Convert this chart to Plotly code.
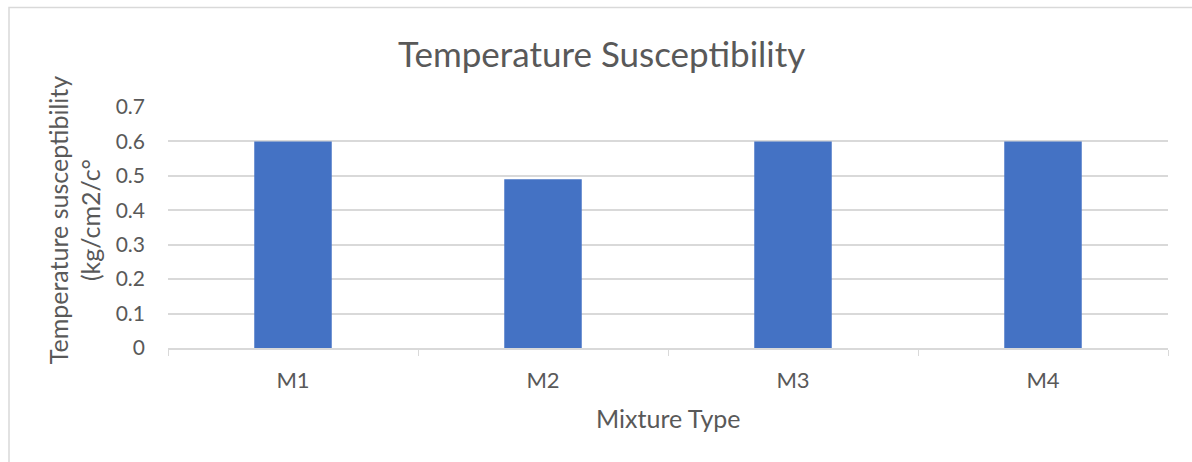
import plotly.graph_objects as go

# Temperature susceptibility by mixture type
mixtures = ["M1", "M2", "M3", "M4"]
susceptibility = [0.6, 0.49, 0.6, 0.6]
y_ticks = [0, 0.1, 0.2, 0.3, 0.4, 0.5, 0.6, 0.7]
y_tick_labels = ["0", "0.1", "0.2", "0.3", "0.4", "0.5", "0.6", "0.7"]

FONT = "Lato"
TEXT = "#595959"
GRID = "#D9D9D9"

fig = go.Figure(
    go.Bar(
        x=mixtures,
        y=susceptibility,
        marker=dict(color="#4472C4", line=dict(width=0)),
        width=0.31,
    )
)

fig.update_layout(
    width=1192,
    height=462,
    margin=dict(l=168, r=24, t=107, b=114),
    paper_bgcolor="white",
    plot_bgcolor="white",
    showlegend=False,
    font=dict(family=FONT, color=TEXT),
)

fig.update_xaxes(
    tickfont=dict(size=22, color=TEXT),
    showgrid=False,
    showline=True,
    linecolor=GRID,
    linewidth=1.5,
    ticks="outside",
    tickson="boundaries",
    ticklen=6,
    tickcolor=GRID,
    ticklabelstandoff=12,
)
fig.update_yaxes(
    range=[0, 0.7],
    tickvals=y_ticks,
    ticktext=y_tick_labels,
    tickfont=dict(size=21, color=TEXT),
    showgrid=True,
    gridcolor=GRID,
    gridwidth=1.5,
    zeroline=False,
    showline=False,
    ticklabelstandoff=22,
)

# Chart title
fig.add_annotation(
    text="Temperature Susceptibility",
    xref="paper", yref="paper",
    x=0.433, y=1.224,
    showarrow=False,
    font=dict(size=35, color=TEXT, family=FONT),
    xanchor="center", yanchor="middle",
)
# Axis titles
fig.add_annotation(
    text="Mixture Type",
    xref="paper", yref="paper",
    x=0.5, y=-0.29,
    showarrow=False,
    font=dict(size=25, color=TEXT, family=FONT),
    xanchor="center", yanchor="middle",
)
fig.add_annotation(
    text="Temperature susceptibility<br>(kg/cm2/c°",
    xref="paper", yref="paper",
    x=-0.094, y=0.53,
    textangle=-90,
    showarrow=False,
    font=dict(size=25, color=TEXT, family=FONT),
    xanchor="center", yanchor="middle",
)

# Chart frame
fig.add_shape(
    type="rect",
    xref="paper", yref="paper",
    x0=-0.159, x1=1.1, y0=-0.6, y1=1.413,
    line=dict(color="#D9D9D9", width=1.5),
    fillcolor="rgba(0,0,0,0)",
    layer="below",
)

fig.write_html("out.html")
